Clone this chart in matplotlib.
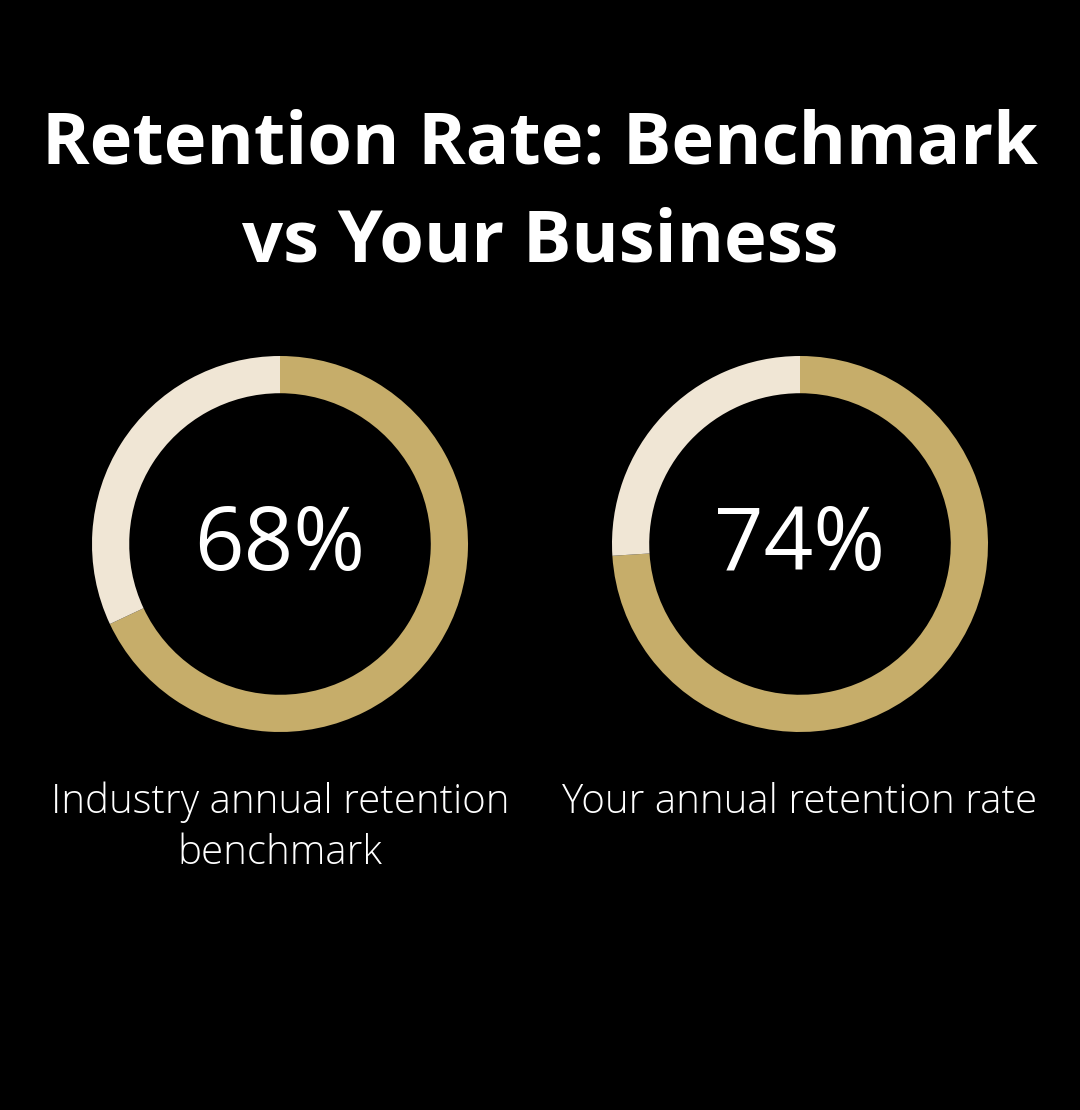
import matplotlib
matplotlib.use("Agg")
import matplotlib.pyplot as plt
from matplotlib import font_manager

W, H = 1080, 1110
DPI = 100

title_lines = ["Retention Rate: Benchmark", "vs Your Business"]
labels = [["Industry annual retention", "benchmark"], ["Your annual retention rate"]]
values = [68, 74]
value_texts = ["68%", "74%"]

gold = "#C6AD6A"
light = "#F0E6D5"

fams = {f.name for f in font_manager.fontManager.ttflist}
fam = ["Open Sans", "DejaVu Sans"] if "Open Sans" in fams else ["DejaVu Sans"]

fig = plt.figure(figsize=(W / DPI, H / DPI), dpi=DPI, facecolor="black")

centers_x = [280, 800]
center_y = 544
radius = 188

for i, v in enumerate(values):
    cx = centers_x[i]
    ax = fig.add_axes([(cx - radius) / W, (H - center_y - radius) / H,
                       2 * radius / W, 2 * radius / H])
    ax.set_facecolor("black")
    ax.pie([v, 100 - v], colors=[gold, light], startangle=90, counterclock=False,
           radius=1.0, wedgeprops=dict(width=0.198, edgecolor="none", linewidth=0))
    ax.set_xlim(-1, 1)
    ax.set_ylim(-1, 1)
    ax.set_aspect("equal")
    ax.axis("off")
    fig.text(cx / W, 1 - 570 / H, value_texts[i], color="white", fontsize=62.5,
             family=fam, ha="center", va="baseline")
    for j, line in enumerate(labels[i]):
        fig.text(cx / W, 1 - (813 + 51 * j) / H, line, color="white", fontsize=29,
                 family=fam, weight="light", ha="center", va="baseline")

for j, line in enumerate(title_lines):
    fig.text(540 / W, 1 - (164 + 98 * j) / H, line, color="white", fontsize=52,
             family=fam, weight="bold", ha="center", va="baseline")

fig.savefig("out.png", dpi=DPI, facecolor="black")
